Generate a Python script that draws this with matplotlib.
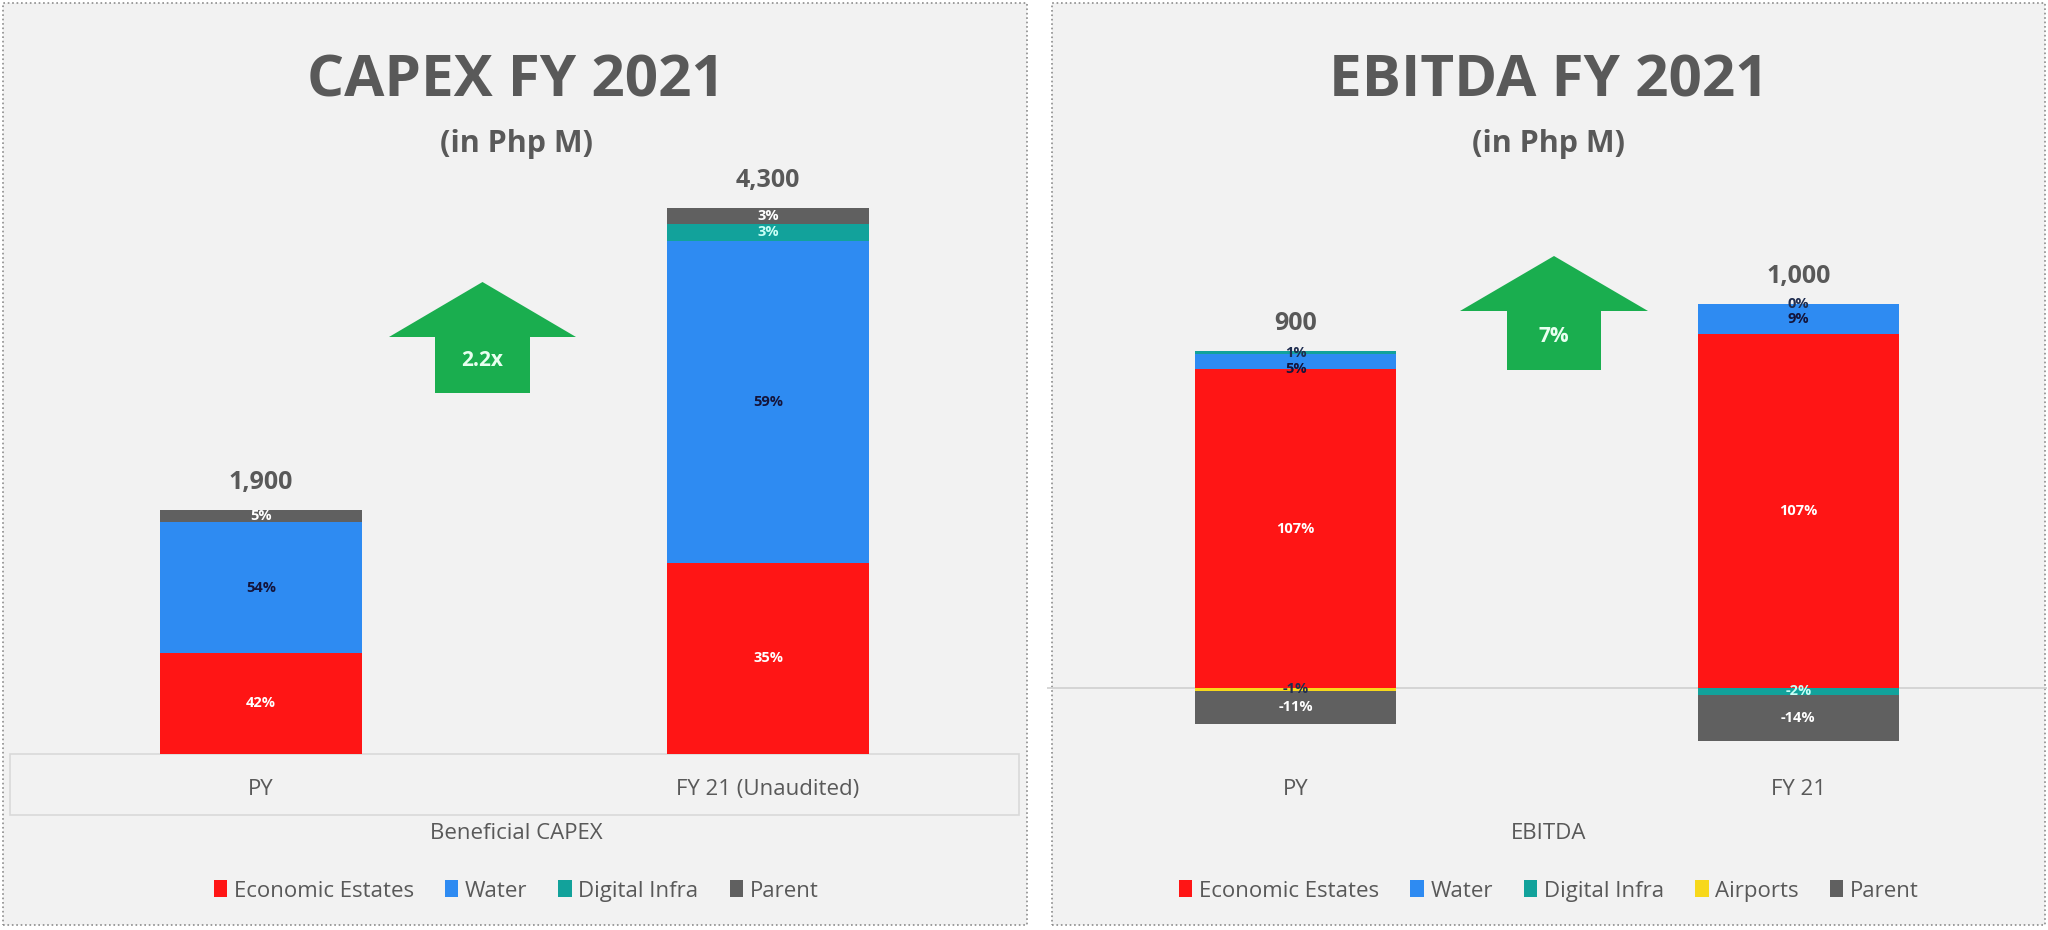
import matplotlib
matplotlib.use("Agg")
import matplotlib.pyplot as plt
from matplotlib.patches import Rectangle, Polygon, Patch

plt.rcParams['font.family'] = ['Open Sans', 'DejaVu Sans']

# ---- data ----
capex_categories = ['PY', 'FY 21 (Unaudited)']
capex_totals = [1900, 4300]
capex_series = ['Economic Estates', 'Water', 'Digital Infra', 'Parent']
capex_ee = [42, 35]
capex_water = [54, 59]
capex_digital = [0, 3]
capex_parent = [5, 3]

ebitda_categories = ['PY', 'FY 21']
ebitda_totals = [900, 1000]
ebitda_series = ['Economic Estates', 'Water', 'Digital Infra', 'Airports', 'Parent']
ebitda_ee = [107, 107]
ebitda_water = [5, 9]
ebitda_digital = [1, -2]
ebitda_airports = [-1, 0]
ebitda_parent = [-11, -14]

colors = {'Economic Estates': '#FF1515', 'Water': '#2E8BF2', 'Digital Infra': '#12A29B',
          'Airports': '#F7D81B', 'Parent': '#606060'}
label_colors = {'Economic Estates': 'white', 'Water': '#14143A', 'Digital Infra': '#C8FFF6',
                'Airports': '#333333', 'Parent': 'white'}
TXT = '#595959'
PANEL = '#F2F2F2'
GREEN = '#1AAE4F'

W, H = 2048, 930
fig = plt.figure(figsize=(W / 100, H / 100), dpi=100)
fig.patch.set_facecolor('white')


def fx(x):
    return x / W


def fy(y):
    return 1 - y / H


# panels
for x0, x1 in [(3, 1027), (1052, 2045)]:
    fig.patches.append(Rectangle((fx(x0), fy(925)), fx(x1 - x0), (925 - 3) / H,
                                 transform=fig.transFigure, facecolor=PANEL,
                                 edgecolor='#8C8C8C', linestyle=':', linewidth=1.2, zorder=-2))
# category box of left chart
fig.patches.append(Rectangle((fx(10), fy(815)), fx(1009), 61 / H, transform=fig.transFigure,
                             facecolor='none', edgecolor='#D9D9D9', linewidth=1.2, zorder=-1))


def stacked(ax, cats, totals, series, pcts, show_zero, nudges):
    pos_base = [0.0] * len(cats)
    neg_base = [0.0] * len(cats)
    for name, pc in zip(series, pcts):
        for i in range(len(cats)):
            v = totals[i] * pc[i] / 100.0
            if v >= 0:
                b = pos_base[i]
                pos_base[i] += v
            else:
                b = neg_base[i]
                neg_base[i] += v
            ax.bar(i, v, bottom=b, width=0.4, color=colors[name], zorder=3)
            if pc[i] == 0 and not show_zero:
                continue
            col = label_colors[name]
            if abs(pc[i]) < 2 and name != 'Parent':
                col = '#1F2D50'
            ax.annotate('%d%%' % pc[i], (i, b + v / 2), xytext=(0, nudges.get((i, name), 0)),
                        textcoords='offset points', ha='center', va='center',
                        fontsize=10.5, fontweight='bold', color=col, zorder=5)
    for i in range(len(cats)):
        ax.annotate('{:,}'.format(totals[i]), (i, pos_base[i]), xytext=(0, 20),
                    textcoords='offset points', ha='center', va='center',
                    fontsize=18, fontweight='bold', color=TXT)


def setup(ax):
    ax.set_facecolor('none')
    ax.set_zorder(1)
    for s in ax.spines.values():
        s.set_visible(False)
    ax.set_xticks([])
    ax.set_yticks([])
    ax.set_xlim(-0.495, 1.495)


# ---- CAPEX ----
ax1 = fig.add_axes([fx(10), fy(754), fx(1009), (754 - 100) / H])
setup(ax1)
ax1.set_ylim(0, 654 / 0.127)
stacked(ax1, capex_categories, capex_totals, capex_series,
        [capex_ee, capex_water, capex_digital, capex_parent], False, {})

# ---- EBITDA ----
ax2 = fig.add_axes([fx(1047), fy(780), fx(1000), (780 - 100) / H])
setup(ax2)
ax2.set_ylim(-(780 - 688) / 0.331, (688 - 100) / 0.331)
ax2.axhline(0, color='#D0D0D0', linewidth=1.2, zorder=1)
stacked(ax2, ebitda_categories, ebitda_totals, ebitda_series,
        [ebitda_ee, ebitda_water, ebitda_digital, ebitda_airports, ebitda_parent], True,
        {(0, 'Water'): -5})

# category labels, titles, legends
for ax, cats, title, xtitle, cx, series in [
        (ax1, capex_categories, 'CAPEX FY 2021', 'Beneficial CAPEX', 516, capex_series),
        (ax2, ebitda_categories, 'EBITDA FY 2021', 'EBITDA', 1549, ebitda_series)]:
    tr = matplotlib.transforms.blended_transform_factory(ax.transData, fig.transFigure)
    for i, c in enumerate(cats):
        fig.text(0, 0, c, transform=tr, ha='center', va='center', fontsize=16, color=TXT).set_position((i, fy(789)))
    fig.text(fx(cx), fy(833), xtitle, ha='center', va='center', fontsize=16, color=TXT)
    fig.text(fx(cx), fy(81), title, ha='center', va='center', fontsize=42,
             fontweight='bold', color=TXT)
    fig.text(fx(cx), fy(144), '(in Php M)', ha='center', va='center', fontsize=22,
             fontweight='bold', color=TXT)
    handles = [Patch(facecolor=colors[s], label=s) for s in series]
    fig.legend(handles=handles, loc='center', bbox_to_anchor=(fx(cx), fy(891)),
               ncol=len(series), frameon=False, fontsize=16, labelcolor=TXT,
               handlelength=0.6, handleheight=0.8, handletextpad=0.3, columnspacing=1.4)

# growth arrows
for (x0, x1, s0, s1, top, base, bot, txt) in [
        (389, 576, 435, 530, 282, 337, 393, '2.2x'),
        (1460, 1648, 1507, 1601, 256, 311, 370, '7%')]:
    cx = (x0 + x1) / 2
    pts = [(cx, top), (x1, base), (s1, base), (s1, bot), (s0, bot), (s0, base), (x0, base)]
    fig.patches.append(Polygon([(fx(a), fy(b)) for a, b in pts], closed=True,
                               transform=fig.transFigure, facecolor=GREEN,
                               edgecolor='none', zorder=2))
    fig.text(fx(cx), fy((base + bot) / 2 - 4), txt, ha='center', va='center',
             fontsize=15, fontweight='bold', color='#E8FFF0')

plt.savefig('out.png', dpi=100, facecolor=fig.get_facecolor())
